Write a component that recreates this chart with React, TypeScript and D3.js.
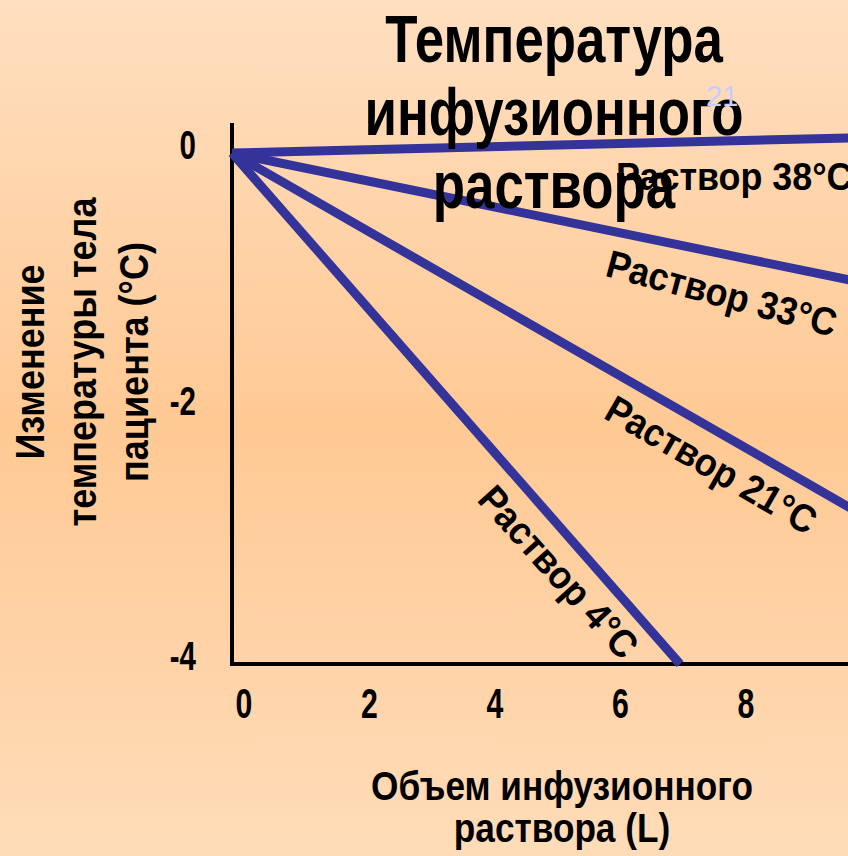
import { useEffect, useRef } from 'react';
import * as d3 from 'd3';

// infusion volume (L) -> change of body temperature (°C)
const solutions = ['Раствор 38°C', 'Раствор 33°C', 'Раствор 21°C', 'Раствор 4°C'];
const volumes = [
  [0, 10],
  [0, 10],
  [0, 10],
  [0, 7.14],
];
const tempChange = [
  [0, 0.12],
  [0, -1.01],
  [0, -2.82],
  [0, -4],
];
// where each label sits, in data units, and its angle
const labelVolume = [6.12, 5.93, 5.9, 3.89];
const labelTemp = [-0.29, -0.96, -2.07, -2.72];
const labelAngle = [0, 15, 30, 48];

const xTicks = [0, 2, 4, 6, 8];
const yTicks = [0, -2, -4];
const titleLines = ['Температура', 'инфузионного', 'раствора'];
const yTitleLines = ['Изменение', 'температуры тела', 'пациента (°C)'];
const xTitleLines = ['Объем инфузионного', 'раствора (L)'];

const FONT = '"Liberation Sans", Arial, sans-serif';

// no narrow font installed, so squeeze the bold face horizontally
const tr = (x: number, y: number, sx: number, rot = 0) =>
  `translate(${x},${y}) rotate(${rot}) scale(${sx},1)`;

const App = () => {
  const svgRef = useRef<SVGSVGElement>(null);

  useEffect(() => {
    if (!svgRef.current) return;
    const width = 848;
    const height = 856;
    const svg = d3.select(svgRef.current).attr('width', width).attr('height', height);
    svg.selectAll('*').remove();

    const defs = svg.append('defs');
    const grad = defs
      .append('linearGradient')
      .attr('id', 'bg')
      .attr('x1', 0)
      .attr('y1', 0)
      .attr('x2', 0)
      .attr('y2', 1);
    grad.append('stop').attr('offset', '0%').attr('stop-color', '#ffdfc0');
    grad.append('stop').attr('offset', '50%').attr('stop-color', '#ffc994');
    grad.append('stop').attr('offset', '100%').attr('stop-color', '#ffdcb9');
    svg.append('rect').attr('width', width).attr('height', height).attr('fill', 'url(#bg)');

    const x = d3.scaleLinear().domain([0, 10]).range([232, 859.5]);
    const y = d3.scaleLinear().domain([-4, 0.235]).range([664, 123]);

    // axes
    svg
      .append('line')
      .attr('x1', x(0))
      .attr('x2', x(0))
      .attr('y1', y(0.235))
      .attr('y2', y(-4) + 2)
      .attr('stroke', '#000')
      .attr('stroke-width', 4);
    svg
      .append('line')
      .attr('x1', x(0))
      .attr('x2', width)
      .attr('y1', y(-4))
      .attr('y2', y(-4))
      .attr('stroke', '#000')
      .attr('stroke-width', 4);

    svg
      .selectAll('text.xt')
      .data(xTicks)
      .join('text')
      .attr('class', 'xt')
      .attr('transform', (d) => tr(x(d) + 12, 718, 0.72))
      .attr('text-anchor', 'middle')
      .attr('font-family', FONT)
      .attr('font-weight', 'bold')
      .attr('font-size', 42)
      .text((d) => d);

    svg
      .selectAll('text.yt')
      .data(yTicks)
      .join('text')
      .attr('class', 'yt')
      .attr('transform', (d) => tr(196, y(d) + 6, 0.72))
      .attr('text-anchor', 'end')
      .attr('font-family', FONT)
      .attr('font-weight', 'bold')
      .attr('font-size', 41)
      .text((d) => d);

    // lines
    const line = d3
      .line<[number, number]>()
      .x((d) => x(d[0]))
      .y((d) => y(d[1]));
    svg
      .selectAll('path.series')
      .data(solutions.map((_, i) => volumes[i].map((v, j) => [v, tempChange[i][j]] as [number, number])))
      .join('path')
      .attr('class', 'series')
      .attr('d', (d) => line(d))
      .attr('fill', 'none')
      .attr('stroke', '#333399')
      .attr('stroke-width', 9);

    svg
      .selectAll('text.lbl')
      .data(solutions)
      .join('text')
      .attr('class', 'lbl')
      .attr('transform', (_, i) => tr(x(labelVolume[i]), y(labelTemp[i]), 0.92, labelAngle[i]))
      .attr('font-family', FONT)
      .attr('font-weight', 'bold')
      .attr('font-size', 39)
      .text((d) => d);

    // title
    svg
      .selectAll('text.title')
      .data(titleLines)
      .join('text')
      .attr('class', 'title')
      .attr('transform', (_, i) => tr(554, 62 + i * 73, 0.8))
      .attr('text-anchor', 'middle')
      .attr('font-family', FONT)
      .attr('font-weight', 'bold')
      .attr('font-size', 66)
      .text((d) => d);

    svg
      .append('text')
      .attr('x', 706)
      .attr('y', 106)
      .attr('font-family', FONT)
      .attr('font-size', 29)
      .attr('fill', '#c8ceff')
      .text('21');

    // axis titles
    svg
      .selectAll('text.ytl')
      .data(yTitleLines)
      .join('text')
      .attr('class', 'ytl')
      .attr('transform', (_, i) => tr(44 + i * 52, 362, 0.9, -90))
      .attr('text-anchor', 'middle')
      .attr('font-family', FONT)
      .attr('font-weight', 'bold')
      .attr('font-size', 40)
      .text((d) => d);

    svg
      .selectAll('text.xtl')
      .data(xTitleLines)
      .join('text')
      .attr('class', 'xtl')
      .attr('transform', (_, i) => tr(562, 800 + i * 42, 0.88))
      .attr('text-anchor', 'middle')
      .attr('font-family', FONT)
      .attr('font-weight', 'bold')
      .attr('font-size', 40)
      .text((d) => d);
  }, []);

  return <svg ref={svgRef} style={{ position: 'absolute', left: 0, top: 0, display: 'block' }}></svg>;
};

export default App;
